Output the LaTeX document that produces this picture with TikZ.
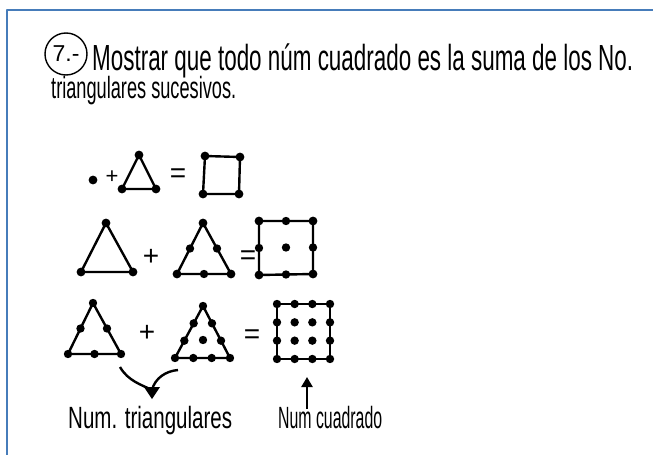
\documentclass[tikz,border=0pt]{standalone}
\usepackage{fontspec}
\setmainfont{Liberation Sans}
\usetikzlibrary{arrows.meta,calc}
\definecolor{framebl}{RGB}{70,124,186}
% hand text squeezed to a given width and cap height
\newcommand{\hwtext}[3]{\sbox0{\fontsize{10}{12}\selectfont #3}\scalebox{\fpeval{#1/(\the\wd0)}}[\fpeval{#2/7.16}]{\usebox0}}
\begin{document}
\begin{tikzpicture}[x=1pt,y=-1pt,line width=2.4pt,line join=round,
  hand/.style={anchor=base west,inner sep=0pt},
  sym/.style={font=\fontsize{28}{28}\selectfont,inner sep=0pt}]
  \useasboundingbox (0,0) rectangle (653,455);
  % page frame
  \draw[framebl,line width=1.8pt] (653,10) -- (7,10) -- (7,455);

  % heading
  \node[circle,draw,line width=1.4pt,minimum size=42pt,inner sep=0pt,font=\fontsize{23}{23}\selectfont] (num) at (66,54) {7.-};
  \node[hand] (ttlA) at (91,70) {\hwtext{541}{26}{Mostrar que todo núm cuadrado es la suma de los No.}};
  \node[hand] (ttlB) at (50,98) {\hwtext{185}{22}{triangulares sucesivos.}};

  % first row
  \coordinate (s1) at (93,180);
  \coordinate (t1a) at (139,155); \coordinate (t1l) at (122,189); \coordinate (t1r) at (156,189);
  \coordinate (q1a) at (205,156); \coordinate (q1b) at (240,157);
  \coordinate (q1c) at (239,194); \coordinate (q1d) at (203,194);
  \draw (t1a) -- (t1r) -- (t1l) -- cycle;
  \draw (q1a) -- (q1b) -- (q1c) -- (q1d) -- cycle;
  \foreach \p in {s1,t1a,t1l,t1r,q1a,q1b,q1c,q1d} \fill (\p) circle (4.4);
  \node[sym,font=\fontsize{22}{22}\selectfont] (plA) at (112,177) {+};
  \node[sym] (eqA) at (178,176) {=};

  % second row
  \coordinate (t2a) at (106,223); \coordinate (t2l) at (81,272); \coordinate (t2r) at (133,272);
  \coordinate (t3a) at (203,223); \coordinate (t3l) at (177,274); \coordinate (t3r) at (231,274);
  \coordinate (q2a) at (259,221); \coordinate (q2b) at (313,221);
  \coordinate (q2c) at (313,274); \coordinate (q2d) at (259,275);
  \draw (t2a) -- (t2r) -- (t2l) -- cycle;
  \draw (t3a) -- (t3r) -- (t3l) -- cycle;
  \draw (q2a) -- (q2b) -- (q2c) -- (q2d) -- cycle;
  \foreach \p in {t2a,t2l,t2r,t3a,t3l,t3r,q2a,q2b,q2c,q2d} \fill (\p) circle (4.4);
  \foreach \u/\v in {t3a/t3l,t3a/t3r,t3l/t3r,q2a/q2b,q2b/q2c,q2c/q2d,q2d/q2a,q2a/q2c}
    \fill ($(\u)!0.5!(\v)$) circle (4.2);
  \node[sym] (plB) at (151,257) {+};
  \node[sym] (eqB) at (248,258) {=};

  % third row
  \coordinate (t4a) at (93,303); \coordinate (t4l) at (68,354); \coordinate (t4r) at (121,354);
  \coordinate (t5a) at (203,306); \coordinate (t5l) at (175,358); \coordinate (t5r) at (230,358);
  \coordinate (q3a) at (277,304); \coordinate (q3b) at (330,304);
  \coordinate (q3c) at (330,359); \coordinate (q3d) at (277,359);
  \draw (t4a) -- (t4r) -- (t4l) -- cycle;
  \draw (t5a) -- (t5r) -- (t5l) -- cycle;
  \draw (q3a) -- (q3b) -- (q3c) -- (q3d) -- cycle;
  \foreach \p in {t4a,t4l,t4r,t5a,t5l,t5r} \fill (\p) circle (4.2);
  \foreach \u/\v in {t4a/t4l,t4a/t4r,t4l/t4r} \fill ($(\u)!0.5!(\v)$) circle (4.2);
  \foreach \u/\v in {t5a/t5l,t5a/t5r,t5l/t5r} {
    \fill ($(\u)!0.333!(\v)$) circle (4.2);
    \fill ($(\u)!0.667!(\v)$) circle (4.2);
  }
  \fill (203,340) circle (4.2);
  \foreach \i in {0,...,3}
    \foreach \j in {0,...,3}
      \fill ({277+\i*17.67},{304+\j*18.33}) circle (4.2);
  \node[sym] (plC) at (147,333) {+};
  \node[sym] (eqC) at (252,337) {=};

  % pointers to the labels
  \coordinate (cvL) at (120,367); \coordinate (cvR) at (178,370); \coordinate (cvT) at (152,390);
  \draw (cvL) .. controls (128,381) and (142,385) .. (cvT);
  \draw (cvR) .. controls (166,371) and (155,378) .. (cvT);
  \fill (144,387) -- (160,387) -- (152,399) -- cycle;
  \coordinate (upB) at (307,409); \coordinate (upT) at (307,377);
  \draw[-{Triangle[length=10pt,width=11pt]}] (upB) -- (upT);

  % labels
  \node[hand] (lblT) at (67,428) {\hwtext{164}{22}{Num. triangulares}};
  \node[hand] (lblC) at (277,428) {\hwtext{104}{22}{Num cuadrado}};
\end{tikzpicture}
\end{document}
